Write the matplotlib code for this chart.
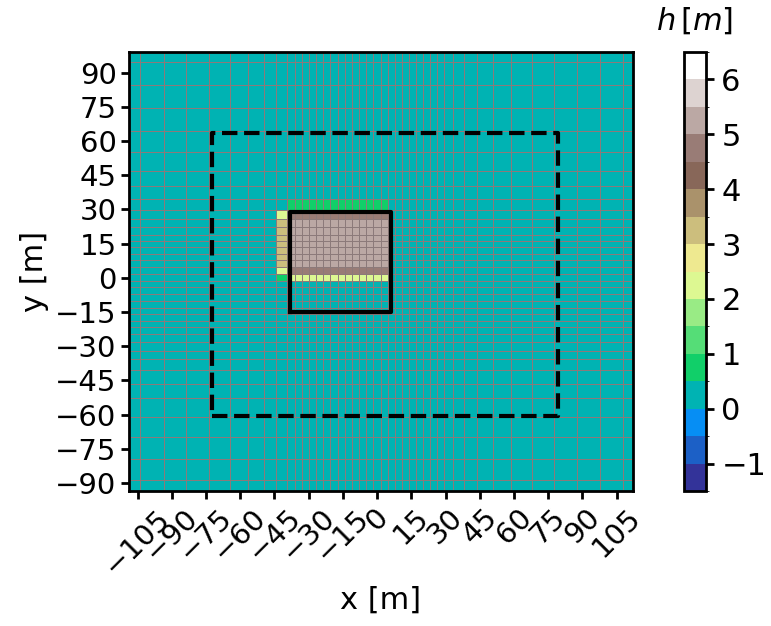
import numpy as np
import matplotlib.pyplot as plt
from matplotlib.colors import BoundaryNorm

# cell edges of the stretched mesh [m]
x_edges = [-108.8, -103.9, -93.5, -83.8, -73.9, -64.5, -56.7, -49.8, -44.4,
           -39.3, -36.2, -33.0, -29.9, -26.8, -23.6, -20.5, -17.3, -14.2,
           -11.1, -7.9, -4.8, -1.6, 1.5, 4.6, 7.7, 10.8, 13.9, 17.0, 20.1,
           23.2, 26.3, 29.4, 33.3, 38.3, 43.8, 50.6, 58.9, 67.9, 77.6, 87.6,
           97.7, 108.0, 112.2]
y_edges = [-93.5, -88.8, -79.3, -69.8, -61.0, -52.9, -46.4, -40.5, -35.8,
           -31.9, -28.1, -24.7, -21.6, -18.9, -15.9, -13.2, -10.2, -7.2,
           -4.2, -1.3, 1.8, 4.7, 7.8, 10.5, 13.3, 16.0, 18.9, 22.1, 25.6,
           29.7, 34.4, 40.3, 47.0, 55.3, 64.5, 74.4, 84.6, 94.4, 99.0]

# height patches (x0, x1, y0, y1, h), everything else is 0
patches = [
    (-39.3, 4.6, 29.7, 34.4, 0.8),    # green strip above the block
    (-39.3, 4.6, -1.3, 1.8, 2.2),     # yellow strip below the block
    (-44.4, -39.3, -1.3, 1.8, 0.8),   # corner cell
    (-44.4, -39.3, 1.8, 29.7, 3.2),   # left column
    (-44.4, -39.3, 25.6, 29.7, 2.2),
    (-44.4, -39.3, 1.8, 4.7, 2.2),
    (-39.3, 4.6, 1.8, 29.7, 5.2),     # block
    (-39.3, 4.6, 25.6, 29.7, 4.8),
    (-39.3, 4.6, 1.8, 4.7, 4.8),
]

# outlines [m]
box_solid = (-38.0, 6.0, -15.0, 29.0)
box_dashed = (-72.6, 79.3, -60.7, 63.4)

levels = np.arange(-1.5, 7.0, 0.5)
cb_ticks = [-1, 0, 1, 2, 3, 4, 5, 6]

xe = np.array(x_edges)
ye = np.array(y_edges)
xc = 0.5 * (xe[1:] + xe[:-1])
yc = 0.5 * (ye[1:] + ye[:-1])
X, Y = np.meshgrid(xc, yc)
Z = np.zeros_like(X)
for x0, x1, y0, y1, h in patches:
    Z[(X > x0) & (X < x1) & (Y > y0) & (Y < y1)] = h

fig = plt.figure(figsize=(7.71, 6.26), dpi=100)
ax = fig.add_axes([129 / 771, 1 - 491 / 626, 504 / 771, 439 / 626])
cmap = plt.get_cmap('terrain')
norm = BoundaryNorm(levels, ncolors=cmap.N)
pc = ax.pcolormesh(xe, ye, Z, cmap=cmap, norm=norm,
                   edgecolors='#8c7a7a', linewidth=0.5)

def draw_box(b, ls):
    x0, x1, y0, y1 = b
    ax.plot([x0, x1, x1, x0, x0], [y0, y0, y1, y1, y0], color='k',
            ls=ls, lw=3)

draw_box(box_solid, '-')
draw_box(box_dashed, '--')

ax.set_xlim(xe[0], xe[-1])
ax.set_ylim(ye[0], ye[-1])
ax.set_xticks(np.arange(-105, 106, 15))
ax.set_yticks(np.arange(-90, 91, 15))
ax.tick_params(width=2, length=6, pad=3, labelsize=21)
plt.setp(ax.get_xticklabels(), rotation=45)
for s in ax.spines.values():
    s.set_linewidth(2)
ax.set_xlabel('x [m]', fontsize=22)
ax.set_ylabel('y [m]', fontsize=22)

cax = fig.add_axes([684 / 771, 1 - 491 / 626, 22 / 771, 439 / 626])
cb = fig.colorbar(pc, cax=cax, ticks=cb_ticks)
cb.outline.set_linewidth(2)
cax.tick_params(width=2, length=6, pad=5, labelsize=22)
cax.set_title(r'$h\,[m]$', fontsize=22, pad=16)

fig.savefig('out.png', dpi=100)
